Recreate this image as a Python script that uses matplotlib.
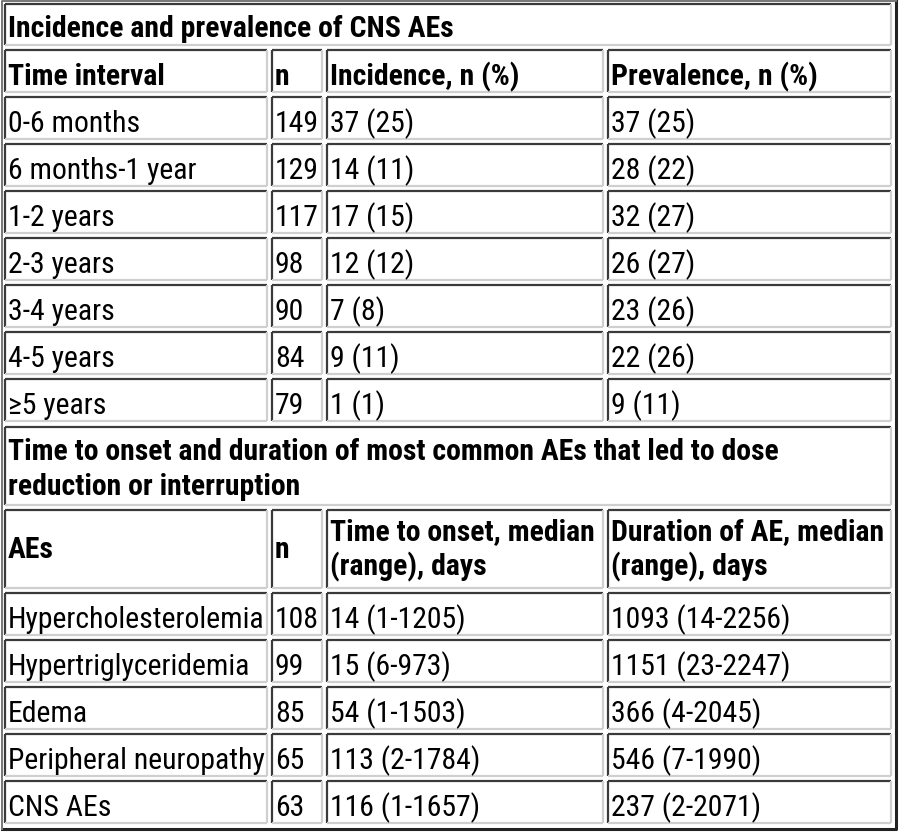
import matplotlib
matplotlib.use("Agg")
import matplotlib.pyplot as plt
from matplotlib import font_manager

# table content
title1 = "Incidence and prevalence of CNS AEs"
head1 = ["Time interval", "n", "Incidence, n (%)", "Prevalence, n (%)"]
intervals = ["0-6 months", "6 months-1 year", "1-2 years", "2-3 years",
             "3-4 years", "4-5 years", "≥5 years"]
n_interval = [149, 129, 117, 98, 90, 84, 79]
incidence = ["37 (25)", "14 (11)", "17 (15)", "12 (12)", "7 (8)", "9 (11)", "1 (1)"]
prevalence = ["37 (25)", "28 (22)", "32 (27)", "26 (27)", "23 (26)", "22 (26)", "9 (11)"]

title2 = "Time to onset and duration of most common AEs that led to dose\nreduction or interruption"
head2 = ["AEs", "n", "Time to onset, median\n(range), days", "Duration of AE, median\n(range), days"]
aes = ["Hypercholesterolemia", "Hypertriglyceridemia", "Edema",
       "Peripheral neuropathy", "CNS AEs"]
n_aes = [108, 99, 85, 65, 63]
onset = ["14 (1-1205)", "15 (6-973)", "54 (1-1503)", "113 (2-1784)", "116 (1-1657)"]
duration = ["1093 (14-2256)", "1151 (23-2247)", "366 (4-2045)", "546 (7-1990)", "237 (2-2071)"]

# pick a narrow font if there is one
names = {f.name for f in font_manager.fontManager.ttflist}
font = "Roboto"
for cand in ["Roboto Condensed", "Liberation Sans Narrow", "Roboto"]:
    if cand in names:
        font = cand
        break
fam = [font, "DejaVu Sans"]
fs = 21.4 if font != "Roboto" else 17

W, H = 903, 837
fig = plt.figure(figsize=(W / 100, H / 100), dpi=100)
ax = fig.add_axes([0, 0, 1, 1])
ax.set_xlim(0, W)
ax.set_ylim(H, 0)
ax.axis("off")

cols = [(5, 267), (272, 322), (327, 603), (608, 891)]
dark, light = "#3a3a3a", "#cfcfcf"


def cell(x0, x1, y0, y1):
    ax.plot([x0, x1], [y0, y0], color=dark, lw=1.6, solid_capstyle="butt")
    ax.plot([x0, x0], [y0, y1], color=dark, lw=1.6, solid_capstyle="butt")
    ax.plot([x0, x1], [y1, y1], color=light, lw=1.6, solid_capstyle="butt")
    ax.plot([x1, x1], [y0, y1], color=light, lw=1.6, solid_capstyle="butt")


def put(x, y, s, bold=False):
    # one text per line, 35 px apart, y is the first baseline
    for k, line in enumerate(s.split("\n")):
        ax.text(x + 3, y + 35 * k, line, fontsize=fs, family=fam,
                va="baseline", ha="left",
                fontweight="bold" if bold else "normal")


# outer border
ax.plot([2, 896, 896], [830, 830, 2], color="#222222", lw=2.2)
ax.plot([2, 2, 896], [830, 2, 2], color="#777777", lw=1.4)

# section 1
y = 5
cell(cols[0][0], cols[3][1], y, y + 41)
put(cols[0][0], y + 32, title1, bold=True)
y = 51
for (x0, x1), h in zip(cols, head1):
    cell(x0, x1, y, y + 42)
    put(x0, y + 34, h, bold=True)
y = 98
for i in range(len(intervals)):
    row = [intervals[i], str(n_interval[i]), incidence[i], prevalence[i]]
    for (x0, x1), s in zip(cols, row):
        cell(x0, x1, y, y + 42)
        put(x0, y + 34, s)
    y += 47

# section 2
y = 428
cell(cols[0][0], cols[3][1], y, y + 78)
put(cols[0][0], y + 32, title2, bold=True)
y = 511
for (x0, x1), h in zip(cols, head2):
    cell(x0, x1, y, y + 78)
    if "\n" in h:
        put(x0, y + 29, h, bold=True)
    else:
        put(x0, y + 47, h, bold=True)
y = 594
for i in range(len(aes)):
    row = [aes[i], str(n_aes[i]), onset[i], duration[i]]
    for (x0, x1), s in zip(cols, row):
        cell(x0, x1, y, y + 42)
        put(x0, y + 34, s)
    y += 47

fig.savefig("out.png", dpi=100)
